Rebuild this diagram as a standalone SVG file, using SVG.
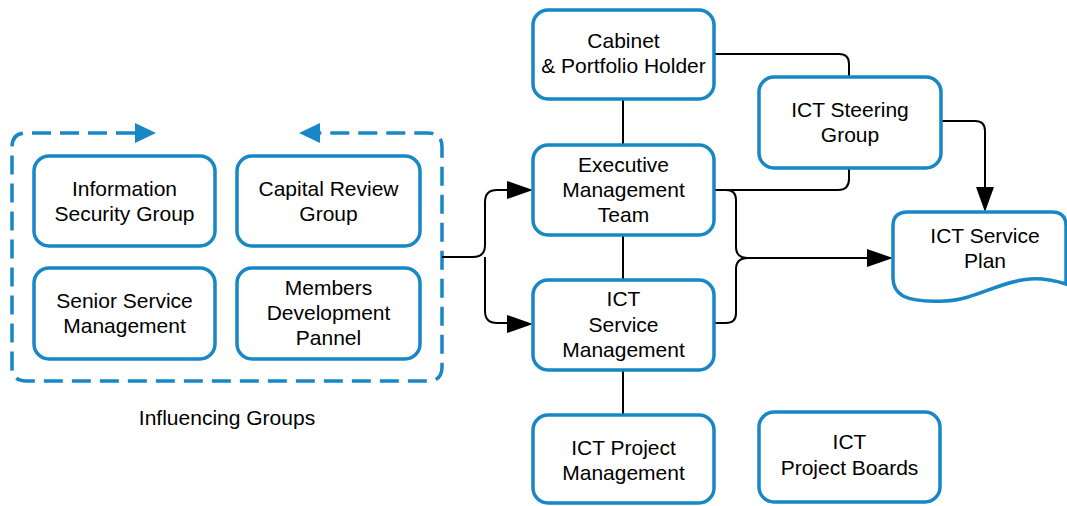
<svg xmlns="http://www.w3.org/2000/svg" width="1067" height="506" viewBox="0 0 1067 506">
<style>
.box{fill:#fff;stroke:#1787c5;stroke-width:3.5}
.dash{fill:none;stroke:#1787c5;stroke-width:3.5;stroke-dasharray:19 9}
.head{fill:#1787c5}
.con{fill:none;stroke:#000;stroke-width:2}
.ah{fill:#000}
text{font-family:"Liberation Sans",Arial,sans-serif;font-size:21px;fill:#000;text-anchor:middle}
</style>
<rect width="1067" height="506" fill="#fff"/>
<g id="influencing-groups">
<path class="dash" d="M135,133 H26 Q12,133 12,147 V367 Q12,381 26,381 H428 Q442,381 442,367 V147 Q442,133 428,133 H320"/>
<polygon class="head" points="135,123 156,133 135,143"/>
<polygon class="head" points="320,123 299,133 320,143"/>
<text x="227" y="425">Influencing Groups</text>
</g>
<g id="info-security">
<rect class="box" x="34" y="156" width="181" height="90" rx="15"/>
<text x="124.5" y="196">Information</text>
<text x="124.5" y="221">Security Group</text>
</g>
<g id="capital-review">
<rect class="box" x="237" y="156" width="183" height="90" rx="15"/>
<text x="328.5" y="196">Capital Review</text>
<text x="328.5" y="221">Group</text>
</g>
<g id="senior-service">
<rect class="box" x="34" y="268" width="181" height="91" rx="15"/>
<text x="124.5" y="308">Senior Service</text>
<text x="124.5" y="333">Management</text>
</g>
<g id="members-dev">
<rect class="box" x="237" y="268" width="183" height="91" rx="15"/>
<text x="328.5" y="295">Members</text>
<text x="328.5" y="320">Development</text>
<text x="328.5" y="345">Pannel</text>
</g>
<g id="connectors">
<line class="con" x1="623" y1="99" x2="623" y2="145"/>
<line class="con" x1="623" y1="235" x2="623" y2="280"/>
<line class="con" x1="623" y1="370" x2="623" y2="415"/>
<path class="con" d="M442,257 H473 Q485,257 485,245 V202 Q485,190 497,190 H510"/>
<path class="con" d="M485,257 V311 Q485,323 497,323 H510"/>
<polygon class="ah" points="507,181 533,190 507,199"/>
<polygon class="ah" points="507,315 533,324 507,333"/>
<path class="con" d="M715,54 H839 Q849,54 849,64 V77"/>
<path class="con" d="M849,168 V179 Q849,190 838,190 H714"/>
<path class="con" d="M714,190 H726 Q736,190 736,200 V247 Q736,258 748,258 H870"/>
<path class="con" d="M714,323 H726 Q736,323 736,313 V269 Q736,258 748,258"/>
<polygon class="ah" points="867,249 893,258 867,267"/>
<path class="con" d="M941,121 H975 Q985,121 985,131 V190"/>
<polygon class="ah" points="976,187 985,212 994,187"/>
</g>
<g id="cabinet">
<rect class="box" x="533" y="10" width="181" height="89" rx="15"/>
<text x="623.5" y="48">Cabinet</text>
<text x="623.5" y="73">&amp; Portfolio Holder</text>
</g>
<g id="executive">
<rect class="box" x="533" y="145" width="181" height="90" rx="15"/>
<text x="623.5" y="172">Executive</text>
<text x="623.5" y="197">Management</text>
<text x="623.5" y="222">Team</text>
</g>
<g id="ict-service-mgmt">
<rect class="box" x="533" y="280" width="181" height="90" rx="15"/>
<text x="623.5" y="306">ICT</text>
<text x="623.5" y="332">Service</text>
<text x="623.5" y="357">Management</text>
</g>
<g id="ict-project-mgmt">
<rect class="box" x="533" y="415" width="181" height="88" rx="15"/>
<text x="623.5" y="455">ICT Project</text>
<text x="623.5" y="480">Management</text>
</g>
<g id="ict-steering">
<rect class="box" x="759" y="77" width="182" height="91" rx="15"/>
<text x="850" y="117">ICT Steering</text>
<text x="850" y="142">Group</text>
</g>
<g id="ict-project-boards">
<rect class="box" x="759" y="412" width="181" height="90" rx="15"/>
<text x="849.5" y="449">ICT</text>
<text x="849.5" y="475">Project Boards</text>
</g>
<g id="ict-service-plan">
<path class="box" d="M908,212 H1052 Q1066,212 1066,226 V284 C1056,281 1045,278 1030,279 C1000,281 975,300 945,301 C925,302 911,300 903,296 Q893,290 893,278 V226 Q893,212 908,212 Z"/>
<text x="985" y="243">ICT Service</text>
<text x="985" y="268">Plan</text>
</g>
</svg>
